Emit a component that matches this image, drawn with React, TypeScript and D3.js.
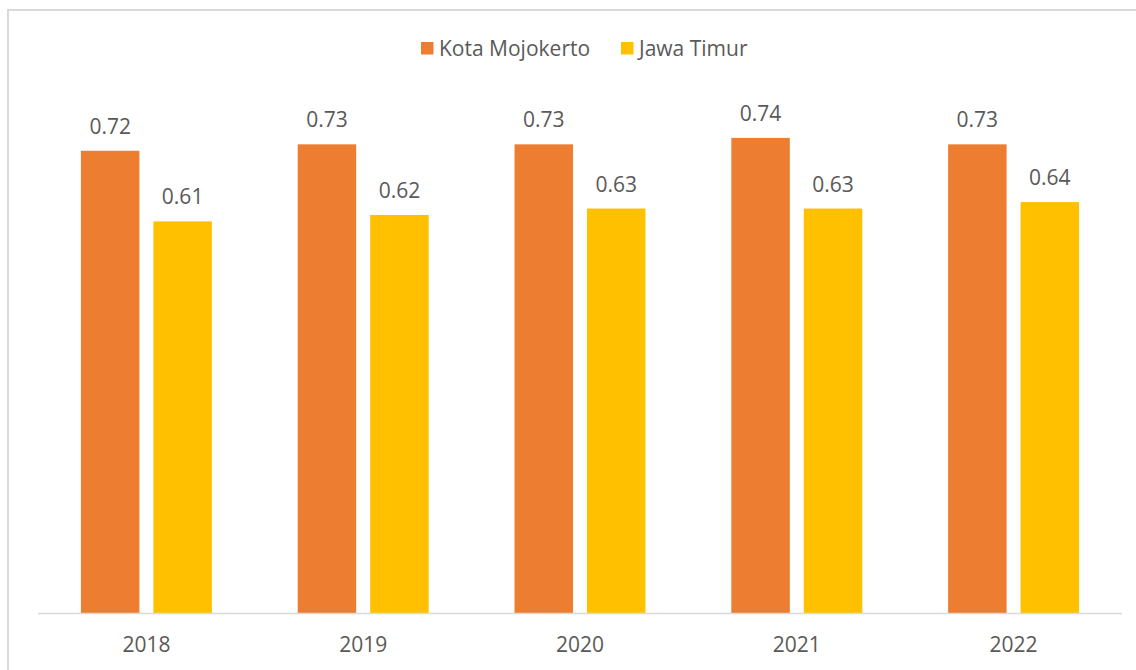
import React from "react";
import * as d3 from "d3";

const years = ["2018", "2019", "2020", "2021", "2022"];
const seriesNames = ["Kota Mojokerto", "Jawa Timur"];
const kotaMojokerto = [0.72, 0.73, 0.73, 0.74, 0.73];
const jawaTimur = [0.61, 0.62, 0.63, 0.63, 0.64];
const colors = ["#ED7D31", "#FFC000"];

const W = 1136;
const H = 670;
const FONT = "'Open Sans', 'Liberation Sans', sans-serif";
const TEXT = "#595959";

export default function App() {
  const seriesValues = [kotaMojokerto, jawaTimur];
  const x0 = d3
    .scaleBand<string>()
    .domain(years)
    .range([38, 1122])
    .paddingInner(0.396)
    .paddingOuter(0.198);
  const x1 = d3
    .scaleBand<string>()
    .domain(seriesNames)
    .range([0, x0.bandwidth()])
    .paddingInner(0.193);
  const y = d3.scaleLinear().domain([0, 0.8]).range([613, 99.4]);
  const fmt = d3.format(".2f");

  const legendItems = [
    { name: seriesNames[0], x: 421, color: colors[0] },
    { name: seriesNames[1], x: 621, color: colors[1] },
  ];

  return (
    <svg
      width={W}
      height={H}
      style={{ position: "fixed", left: 0, top: 0, background: "#fff" }}
      fontFamily={FONT}
    >
      <rect x={0} y={0} width={W} height={H} fill="#fff" />
      <rect
        x={8}
        y={10}
        width={W + 20}
        height={H + 20}
        fill="none"
        stroke="#d9d9d9"
        strokeWidth={2}
      />
      {legendItems.map((d) => (
        <g key={d.name}>
          <rect x={d.x} y={42} width={12.5} height={12.5} fill={d.color} />
          <text x={d.x + 18} y={55.5} fontSize={21} fill={TEXT}>
            {d.name}
          </text>
        </g>
      ))}
      {years.map((yr, i) => (
        <g key={yr} transform={`translate(${x0(yr)},0)`}>
          {seriesNames.map((s, j) => {
            const v = seriesValues[j][i];
            const bx = x1(s)!;
            const bw = x1.bandwidth();
            return (
              <g key={s}>
                <rect
                  x={bx}
                  y={y(v)}
                  width={bw}
                  height={y(0) - y(v)}
                  fill={colors[j]}
                />
                <text
                  x={bx + bw / 2}
                  y={y(v) - 17}
                  textAnchor="middle"
                  fontSize={21}
                  fill={TEXT}
                >
                  {fmt(v)}
                </text>
              </g>
            );
          })}
        </g>
      ))}
      <line x1={38} x2={1122} y1={613.5} y2={613.5} stroke="#d9d9d9" strokeWidth={1.5} />
      {years.map((yr) => (
        <text
          key={yr}
          x={x0(yr)! + x0.bandwidth() / 2}
          y={652}
          textAnchor="middle"
          fontSize={21}
          fill={TEXT}
        >
          {yr}
        </text>
      ))}
    </svg>
  );
}
